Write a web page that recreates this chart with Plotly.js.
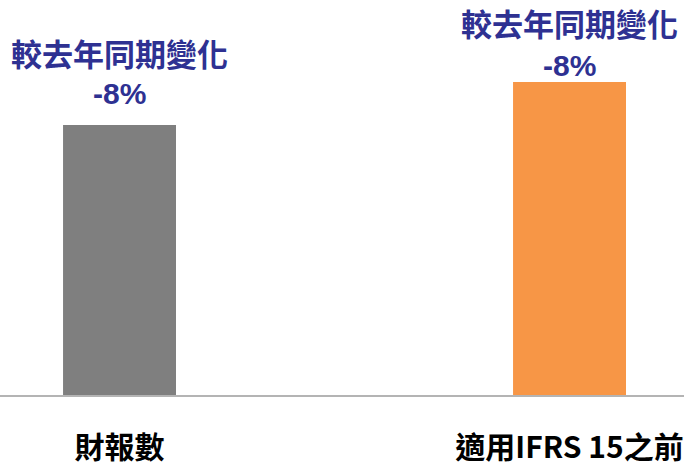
<!DOCTYPE html>
<html><head><meta charset="utf-8">
<script src="https://cdn.plot.ly/plotly-3.0.1.min.js"></script>
<style>html,body{margin:0;padding:0;background:#fff}#c{width:684px;height:462px}</style>
</head><body><div id="c"></div>
<script>
const categories = ["財報數", "適用IFRS 15之前"];
const values = [270, 313];
const barColors = ["#7f7f7f", "#f79646"];
const changeTitle = ["較去年同期變化", "較去年同期變化"];
const changeValues = ["-8%", "-8%"];
const titleY = [0.868, 0.944];
const changeY = [0.764, 0.833];

const trace = {
  type: "bar", x: categories, y: values,
  marker: {color: barColors}, width: 0.251, hoverinfo: "skip"
};
const annotations = [];
for (let i = 0; i < categories.length; i++) {
  annotations.push({x: categories[i], y: titleY[i], xref: "x", yref: "paper", text: changeTitle[i], showarrow: false,
    font: {family: "Noto Sans CJK TC", size: 31, color: "#2e3192", weight: "bold"}, yanchor: "middle"});
  annotations.push({x: categories[i], y: changeY[i], xref: "x", yref: "paper", text: "<b>" + changeValues[i] + "</b>", showarrow: false,
    font: {family: "Liberation Sans, Arial, sans-serif", size: 30, color: "#2e3192"}, yanchor: "middle"});
}
const layout = {
  width: 684, height: 462,
  margin: {l: 0, r: 0, t: 0, b: 67},
  paper_bgcolor: "#fff", plot_bgcolor: "#fff",
  showlegend: false,
  xaxis: {type: "category", range: [-0.2656, 1.2544], showline: true, linecolor: "#b4b4b4", linewidth: 1.5,
    ticks: "", showgrid: false, zeroline: false,
    tickfont: {family: "Noto Sans CJK TC", size: 30, color: "#000", weight: "bold"}, ticklabelstandoff: 25},
  yaxis: {range: [0, 395], visible: false, showgrid: false, zeroline: false},
  annotations: annotations
};
Plotly.newPlot("c", [trace], layout, {displayModeBar: false, staticPlot: true});
</script></body></html>
